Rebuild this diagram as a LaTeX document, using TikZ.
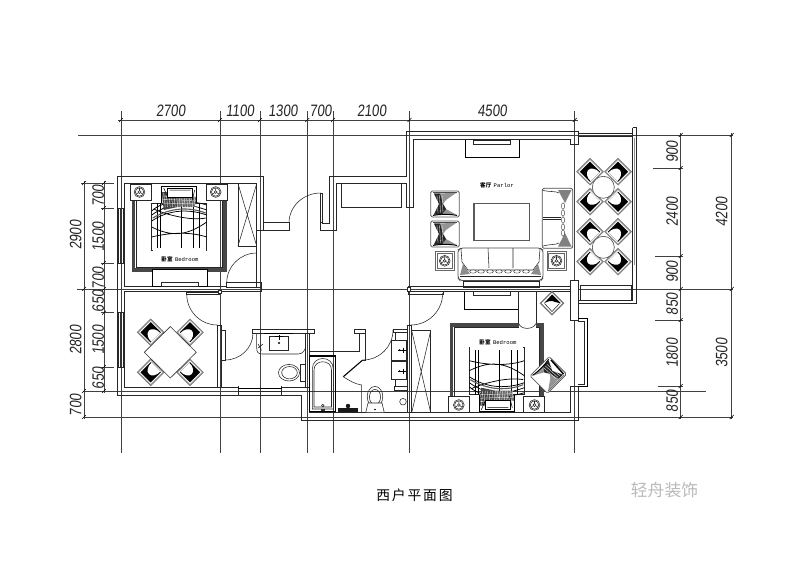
\documentclass[tikz,border=0pt]{standalone}
\usepackage{fontspec}
\usetikzlibrary{calc}
\newfontfamily\cjk{Noto Sans CJK SC}
\newfontfamily\dimf[FakeStretch=0.8,FakeSlant=0.1]{Liberation Sans}
\newfontfamily\monof{Liberation Mono}
\newcommand{\dimtop}[2]{\node[dimtext] at (#1,110.7) {#2};}
\newcommand{\dimrot}[3]{\node[dimtext,rotate=90] at (#1,#2) {#3};}
\newcommand{\doorarc}[6]{\draw[thinw] (#1,#2) .. controls ($(#1,#2)!.5523!(#3,#4)$) and ($(#5,#6)!.5523!(#3,#4)$) .. (#5,#6);}
\tikzset{
  dimtext/.style={font=\dimf\fontsize{16.5}{17}\selectfont,text=black!85,inner sep=0},
  grid/.style={draw=black!75,line width=0.65pt},
  wallw/.style={draw=black!85,line width=0.75pt},
  thinw/.style={draw=black!85,line width=0.55pt},
  heavy/.style={draw=black,line width=1.5pt},
  hatch/.style={draw=black!72,line width=3.4pt},
  roomlab/.style={font=\fontsize{5.6}{7}\selectfont,inner sep=0},
  chairp/.pic={
    \draw[draw=black!55,line width=0.5pt,fill=black!40] (-9.5,-9.5) rectangle (9.5,9.5);
    \fill[white] (-8.2,-8.2) rectangle (8.2,8.2);
    \fill[black] (-7.2,-7.2) rectangle (7.2,7.2);
    \fill[white] (-7.2,-6.2) .. controls (-2,-6.6) and (2.5,-3.5) .. (2.5,0) .. controls (2.5,3.5) and (-2,6.6) .. (-7.2,6.2) -- cycle;
  },
  lampp/.pic={
    \draw[thinw] (0,0) circle (5.4);
    \draw[thinw] (0,0) circle (4.2);
    \draw[thinw] (0,0) circle (1.4);
    \draw[thinw] (0,-1.4)--(0,-4.2) (-1.2,0.8)--(-3.6,2.2) (1.2,0.8)--(3.6,2.2);
  },
  lamptab/.pic={
    \draw[draw=black!60,line width=0.6pt] (-9.3,-9.3) rectangle (9.3,9.3);
    \draw[draw=black!60,line width=0.6pt] (-7.9,-7.9) rectangle (7.9,7.9);
    \pic {lampp};
  },
  armp/.pic={
    \draw[draw=black!65,line width=0.8pt,fill=white,rounded corners=1.5pt] (-14.3,-13) rectangle (14.3,13);
    \fill[black!42] (-11,-10.5) -- (11,-11) -- (1,-4) -- (-2,0) -- (1,5) -- (11,10.5) -- (-11,10.5) -- (-6,0) -- cycle;
    \fill[black!85] (-11,-10.5) -- (-5,-10.5) -- (-2,0) -- (1,5) -- (-3,10.5) -- (-11,10.5) -- (-6,0) -- cycle;
    \foreach \q in {-8,-5.5,-3} {\draw[white,line width=0.3pt] (\q,-9)--(\q+1,9);}
    \draw[black,line width=1pt] (-12,11.4) .. controls (-4,10) and (4,10) .. (12,11.4);
    \draw[black!70,line width=0.6pt] (-12,-11.5) -- (12,-11.5);
  },
  bedp/.pic={
    \draw[thinw] (0,18)--(55,18) (0,18)--(0,65)--(1,65) (55,18)--(55,65)--(54,65);
    \foreach \q in {5.7,9,30,41.7,48} {\draw[black,line width=0.7pt] (\q,18)--(\q,63);}
    \draw[black,line width=0.75pt] (0,30) .. controls (20,16) and (35,18) .. (55,25)
      (0,36) .. controls (18,24) and (38,24) .. (55,30)
      (0,42) .. controls (20,52) and (35,51) .. (55,37)
      (0,52) .. controls (20,47) and (40,47) .. (55,52)
      (2,24) .. controls (15,30) and (40,36) .. (54,33)
      (0,26) .. controls (12,14) and (40,15) .. (55,20);
    \draw[black!65,line width=1.1pt] (1,33) .. controls (20,22) and (38,22) .. (54,28);
    \fill[black!72] (10,7) -- (25,7) -- (26,22) -- (12,25) -- cycle;
    \fill[black!60] (25,9) -- (45,12) -- (43,22) -- (26,22) -- cycle;
    \foreach \q in {12,14.5,...,42} {\draw[white,line width=0.3pt] (\q,8)--(\q+1.5,22);}
    \foreach \q in {11,14.5,18} {\draw[white,line width=0.3pt] (10,\q)--(44,\q+1);}
    \draw[black,line width=0.5pt] (10,1)--(10,18) (45,1)--(45,18) (10,1)--(45,1);
    \draw[black,line width=0.5pt,fill=white] (16,3) rectangle (41,12);
    \draw[black,line width=0.5pt] (18,5)--(39,5) (12,3)--(16,12) (43,5)--(40,17);
  },
}
\begin{document}
\begin{tikzpicture}[x=1pt,y=-1pt,line cap=butt,line join=miter]
\useasboundingbox (0,0) rectangle (800,565);
\fill[white] (0,0) rectangle (800,565);

% ---------- grid / dimension lines
\foreach \q in {121,220,260,307.3,333,409.5,574.8} {\draw[grid] (\q,111)--(\q,453);}
\draw[grid] (78,135)--(733,135);
\draw[grid] (77,289)--(733,289);
\draw[grid] (83,391)--(706,391);
\draw[grid] (84,417)--(733,417);
\draw[grid] (118,120)--(578,120);
\draw[grid] (84,181)--(84,419);
\draw[grid] (104,181)--(104,393);
\draw[grid] (680.7,133)--(680.7,419);
\draw[grid] (731.7,133)--(731.7,419);
\draw[grid] (81,183)--(114,183) (81,289)--(107,289);
\draw[grid] (101,208)--(114,208) (101,263)--(114,263) (101,312.7)--(114,312.7) (101,367)--(114,367);
\draw[grid] (653,168)--(683,168) (655,256)--(683,256) (655,320)--(683,320) (658,386)--(683,386);
\foreach \q in {121,220,260,307.3,333,409.5,574.8} {\draw[black,line width=0.6pt] (\q-2,122)--(\q+2,118);}
\foreach \q in {183,289,391,417} {\draw[black,line width=0.6pt] (82,\q+2)--(86,\q-2);}
\foreach \q in {183,208,263,289,312.7,367,391} {\draw[black,line width=0.6pt] (102,\q+2)--(106,\q-2);}
\foreach \q in {135,168,256,289,320,386,417} {\draw[black,line width=0.6pt] (678.7,\q+2)--(682.7,\q-2);}
\foreach \q in {135,289,417} {\draw[black,line width=0.6pt] (729.7,\q+2)--(733.7,\q-2);}

% ---------- dimension text
\dimtop{170.7}{2700}\dimtop{240}{1100}\dimtop{283}{1300}\dimtop{320.7}{700}\dimtop{371.7}{2100}\dimtop{492.3}{4500}
\dimrot{75.7}{235}{2900}\dimrot{75.7}{340}{2800}\dimrot{75.7}{405}{700}
\dimrot{98.3}{195.7}{700}\dimrot{98.3}{236.7}{1500}\dimrot{98.3}{278}{700}\dimrot{98.3}{301}{650}\dimrot{98.3}{340}{1500}\dimrot{98.3}{378.3}{650}
\dimrot{672.3}{151.7}{900}\dimrot{672.3}{211.7}{2400}\dimrot{672.3}{271.7}{900}\dimrot{672.3}{304.3}{850}\dimrot{672.3}{353.3}{1800}\dimrot{672.3}{401}{850}
\dimrot{721.7}{211.7}{4200}\dimrot{721.7}{353.3}{3500}

% ---------- walls: upper run
\draw[wallw] (263.3,222.7)--(289,222.7)--(289,230)--(263.3,230)--(263.3,176.3)--(117.3,176.3)--(117.3,395)--(301.7,395)--(301.7,420)--(578.3,420)--(578.3,386)--(570.7,386)--(570.7,412.7)--(309.3,412.7)--(309.3,387)--(281.7,387);
\draw[wallw] (124.3,286.7)--(124.3,183.7)--(256.7,183.7)--(256.7,286.7);
\draw[wallw] (124.3,291)--(124.3,387.3)--(238,387.3);
\draw[wallw] (124.3,286.7)--(226.7,286.7) (124.3,291)--(261.7,291)--(261.7,282.7)--(226.7,282.7)--(226.7,287)--(261.7,287);
\draw[wallw] (256.7,230)--(263.3,230);
\draw[wallw] (320.7,193)--(322.4,193)--(322.4,223)--(329.3,223)--(329.3,176.7)--(406.7,176.7)--(406.7,131.7)--(578.3,131.7)--(578.3,144.3)--(570.7,144.3)--(570.7,139.3)--(413.3,139.3)--(413.3,207.3)--(406.7,207.3)--(406.7,183.3)--(336,183.3)--(336,230)--(320.7,230)--cycle;
\draw[wallw] (341,183.3)--(341,207.3)--(401.7,207.3)--(401.7,183.3);
\draw[wallw] (320.7,222.7)--(322.4,222.7);

% side windows
\foreach \a/\b in {208/263,312.7/367.3} {
  \draw[thinw] (118.3,\a) rectangle (123.3,\b);
  \fill[black!80] (120,\a) rectangle (122,\b);
}
% bottom window
\draw[wallw] (238,385.5)--(238,395) (281.7,385.5)--(281.7,395);
\draw[heavy] (238,388.4)--(281.7,388.4);
\draw[thinw] (238,391)--(281.7,391);

% middle walls
\draw[wallw] (408,286.7)--(570.7,286.7) (408,291)--(570.7,291);
\draw[wallw,fill=white] (570.7,280) rectangle (578.3,320);
\draw[wallw] (217.3,325)--(217.3,387.3) (221.7,325)--(221.7,387.3) (217.3,325)--(221.7,325);
\draw[wallw] (221.7,330)--(225.7,330)--(225.7,360)--(221.7,360);
% door strips
\draw[thinw] (186.7,292.3) rectangle (219,294.7);
\draw[thinw,fill=white] (218,290) rectangle (221.5,293);
\draw[thinw] (408,291.2) rectangle (443,294);
\draw[thinw,fill=white] (407.5,287.5) rectangle (410.5,291);
% doors
\doorarc{289}{223}{289}{193}{320.7}{193}
\doorarc{226.7}{283}{226.7}{253}{256.7}{253}
\doorarc{186.7}{294}{186.7}{325}{217.3}{325}
\doorarc{253}{333}{253}{360}{225}{360}
\doorarc{363}{360}{393}{360}{393}{330}
\doorarc{442.7}{293}{442.7}{325}{410.7}{325}

% bathroom walls
\draw[wallw] (252.7,329.3) rectangle (314.3,333);
\draw[wallw] (354.3,329.3) rectangle (365,333);
\draw[wallw] (305.7,333)--(305.7,387.3) (309.3,333)--(309.3,356);
\draw[wallw] (309.3,351.7)--(359.3,351.7)--(359.3,333) (365,333)--(365,360)--(362.7,360);
\draw[wallw] (407.7,325)--(407.7,412.7) (411.7,325)--(411.7,412.7) (407.7,325)--(411.7,325);
\draw[thinw] (430.7,330.7)--(411.7,330.7) (430.7,330.7)--(430.7,412.7);
\draw[thinw] (411.7,330.7)--(430.7,412.7) (430.7,330.7)--(411.7,412.7);
% sliding door
\draw[heavy,line width=1.1pt] (362.7,360)--(343.3,376.7);
\draw[thinw] (343.3,376.7) .. controls (350,381) and (355,384) .. (361.7,385)--(361.7,412.7);

% bath
\draw[black,line width=1.1pt] (309.3,356) rectangle (335.3,411.7);
\draw[thinw] (312.3,409) -- (312.3,369) .. controls (312.3,355) and (333.3,355) .. (333.3,369) -- (333.3,409) -- cycle;
\draw[thinw] (314,407)--(314,370) .. controls (314,359) and (331.5,359) .. (331.5,370)--(331.5,407)--cycle;
\draw[thinw] (322.8,405.5) circle (1.3);
\fill[black!80] (320.5,409) rectangle (325,411);
% sink block bottom
\fill[black!90] (338.3,408.3) rectangle (357.7,412.3);
\fill[black!90] (348,406) circle (2.2);

% left basin + toilet
\draw[thinw] (256.7,333)--(256.7,348) .. controls (256.7,352) and (258,354) .. (262,354) -- (298,354) .. controls (303,354) and (305.7,350) .. (305.7,345);
\draw[thinw] (269.3,336.7) rectangle (288.3,350.7);
\draw[black,line width=1.1pt] (264,333.3)--(293,333.3);
\fill[black] (279,343) circle (1.1);
\draw[black,line width=0.6pt] (275,336.5)--(283,336.5) (279,335)--(279,340);
\draw[thinw] (258,344) -- (261,349) -- (261,351) (258,348) -- (263,344);
\draw[thinw] (289,372.7) ellipse (10.5 and 8.3);
\draw[thinw] (289.5,372.7) ellipse (7.8 and 6.2);
\draw[thinw] (300,364) rectangle (305.7,381.7);
% right toilet
\draw[thinw] (375,396.7) ellipse (7.8 and 10.3);
\draw[thinw] (375,397) ellipse (5.6 and 7.6);
\draw[thinw,fill=white] (368,403)--(365.7,412.7)--(384.3,412.7)--(382,403)--cycle;
\fill[black] (375,409.5) circle (0.9);
% vanity
\draw[thinw] (393.3,329) rectangle (407.3,332.7);
\draw[thinw] (391.7,340.7) rectangle (406.7,360);
\draw[thinw] (391.7,361.7) rectangle (406.7,379.3);
\draw[thinw] (394,386.7) rectangle (407,390);
\draw[thinw] (395.5,332.7)--(395.5,340.7) (395.5,379.3)--(395.5,386.7);
\draw[thinw] (403,401.7) circle (3.3);
\foreach \q in {350,371} {\fill[black] (399.5,\q) circle (1); \draw[black,line width=0.6pt] (403,\q-2.5)--(403,\q+2.5) (398,\q)--(406,\q);}

% living right wall / window
\draw[heavy] (578.3,318.7)--(587.3,318.7)--(587.3,386.7)--(578.3,386.7);
\draw[thinw] (578.3,321)--(584.5,321)--(584.5,384.5)--(578.3,384.5);
% balcony
\draw[wallw] (578.3,133.3)--(632.7,133.3) (578.3,136.7)--(632.7,136.7);
\draw[wallw] (632.7,127.7)--(636.7,127.7)--(636.7,303.3)--(578.3,303.3) (632.7,127.7)--(632.7,300)--(578.3,300);
\draw[thinw] (580,285) rectangle (631,300);
\draw[black!45,line width=1.1pt] (634.3,138)--(634.3,265);

% ---------- bedroom 1
\draw[hatch] (133.6,200)--(133.6,271.7) (131.9,270)--(226.5,270) (224.8,271.7)--(224.8,200);
\draw[thinw] (136,200)--(136,267.5)--(222.5,267.5)--(222.5,200);
\draw[thinw,fill=white] (130.3,184) rectangle (151.7,200);
\draw[thinw,fill=white] (206.7,184) rectangle (227.7,200);
\pic at (139.5,192) {lampp};
\pic at (215.7,192) {lampp};
\pic at (151.7,185) {bedp};
\draw[black,line width=0.8pt,fill=white] (152.7,269.3) rectangle (207.7,286.7);
\draw[thinw,fill=white] (161.7,282.3) rectangle (198.3,286.7);
\draw[thinw] (238,183.7) rectangle (256.7,246);
\draw[thinw] (238,183.7)--(256.7,246) (256.7,183.7)--(238,246);

% ---------- dining
\pic[rotate=135] at (150.7,332.3) {chairp};
\pic[rotate=45] at (190,332.3) {chairp};
\pic[rotate=225] at (150.7,372.3) {chairp};
\pic[rotate=-45] at (190,372.3) {chairp};
\draw[black!80,line width=0.6pt,fill=white] (170.3,326.6)--(196.3,352.3)--(170.3,378)--(144.3,352.3)--cycle;

% ---------- balcony sets
\foreach \c in {187.3,247.3} {
  \pic[rotate=135] at (590,\c-15.6) {chairp};
  \pic[rotate=45] at (618,\c-15.6) {chairp};
  \pic[rotate=225] at (590,\c+14.4) {chairp};
  \pic[rotate=-45] at (618,\c+14.4) {chairp};
  \draw[black!70,line width=0.6pt,fill=white] (603.3,\c) circle (11);
}

% ---------- living room
\draw[black,line width=0.8pt] (465,140)--(465,157.3)--(519.3,157.3)--(519.3,140);
\draw[thinw] (473.3,140.7) rectangle (510.7,144);
\draw[black!65,line width=1.3pt] (474,203.3) rectangle (529.3,240.7);
\pic at (445,204) {armp};
\pic at (445,234) {armp};
\pic at (444.7,260.8) {lamptab};
\pic at (556.5,260.8) {lamptab};
% sofa
\draw[thinw] (463.5,280) rectangle (539,287);
\draw[draw=black!70,line width=0.8pt,rounded corners=2pt] (458,250)--(458,278)--(460,280.5)--(541,280.5)--(543,278)--(543,250)--(540,248)--(461,248)--cycle;
\draw[thinw] (461,249)--(462,262)--(468,270)--(533,270)--(539,262)--(540,249);
\draw[thinw] (488,248)--(489,268) (513,248)--(513,268);
\draw[thinw] (460,276)--(541,276);
\foreach \q in {473,481,490,499,508,517,526} {\draw[black!80,fill=white,line width=0.4pt] (\q,271.5) ellipse (3.4 and 1.6);}
\fill[black!45] (460,275)--(463,264)--(470,274)--cycle (541,275)--(538,264)--(531,274)--cycle;
% right two-seat sofa
\draw[draw=black!70,line width=0.8pt,rounded corners=2pt] (542.3,188.3) rectangle (572.7,248.3);
\draw[thinw] (542.8,217.5)--(561,217.5);
\draw[thinw] (542.8,219)--(561,219);
\draw[thinw] (543,190.5) .. controls (550,192) and (556,191) .. (559,193) (543,246) .. controls (550,244) and (556,245) .. (559,243);
\fill[black!50] (558,190)--(571.5,190)--(565,203)--cycle (558,246.5)--(571.5,246.5)--(565,233)--cycle;
\foreach \q in {206,213,220,227,233} {\draw[black!80,fill=white,line width=0.4pt] (563,\q) ellipse (1.6 and 3.2);}

% ---------- bedroom 2
\draw[thinw,fill=white] (463,281) rectangle (539,286.7);
\draw[black,line width=0.8pt] (464,291.5)--(464,309)--(518.7,309)--(518.7,291.5);
\draw[thinw] (473.3,291.5) rectangle (510,295);
\draw[thinw] (518.7,291)--(518.7,323.5) (536,291)--(536,323.5);
\draw[hatch] (451.5,396.7)--(451.5,323.3) (449.8,325)--(518.7,325) (536,325)--(543.5,325) (541.8,323.3)--(541.8,396.7);
\draw[thinw] (454,396.7)--(454,327.5)--(518.7,327.5) (536,327.5)--(539.5,327.5)--(539.5,396.7);
\draw[thinw] (518.7,323.5) .. controls (521,330) and (533,330) .. (536,323.5);
\draw[thinw,fill=white] (448.3,396.7) rectangle (469.3,412.7);
\draw[thinw,fill=white] (523.3,396.7) rectangle (544.3,412.7);
\pic at (458.8,405) {lampp};
\pic at (534.5,405) {lampp};
\pic[yscale=-1] at (469.3,412.7) {bedp};
% small armchair
\draw[draw=black!55,line width=1.2pt,fill=white] (552,291.8)--(563.5,303.3)--(552,314.8)--(540.5,303.3)--cycle;
\fill[black] (552,294.5)--(561,303.3)--(555,302) .. controls (552,300) and (548,301) .. (544,303.3)--cycle;
\draw[thinw] (544.5,303.5)--(552,311.5)--(559.5,303.5);
% lounge chair
\pic[rotate=225,scale=0.95] at (548.3,375) {armp};
\draw[black,line width=1.5pt] (551,360)--(563.5,374);

% ---------- labels
\node (lab1) [roomlab] at (180,259) {{\cjk\bfseries 卧室} {\monof Bedroom}};
\node (lab2) [roomlab] at (498,342) {{\cjk\bfseries 卧室} {\monof Bedroom}};
\node (lab3) [roomlab] at (497,185) {{\cjk\bfseries 客厅} {\monof Parlor}};
\node (title) [inner sep=0,font=\cjk\fontsize{13.8}{15}\selectfont] at (414.5,495.5) {西\kern1.8pt 户\kern1.8pt 平\kern1.8pt 面\kern1.8pt 图};
\node (mark) [inner sep=0,text=black!27,font=\cjk\fontsize{16.8}{18}\selectfont] at (664.5,490) {轻舟装饰};
\end{tikzpicture}
\end{document}
